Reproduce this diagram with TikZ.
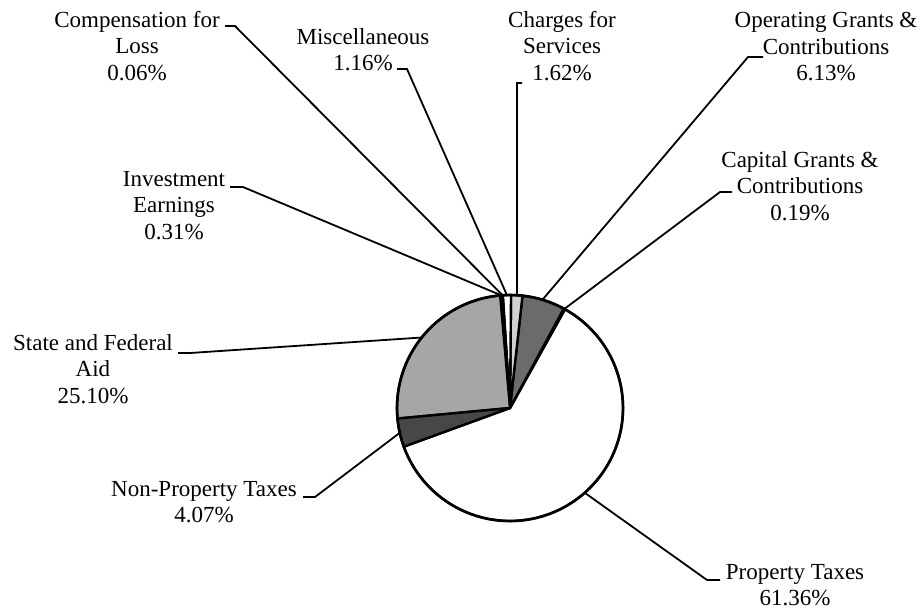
\documentclass[tikz,border=0pt]{standalone}
\usepackage{fontspec}
\setmainfont{Liberation Serif}
\begin{document}
\begin{tikzpicture}[x=1pt,y=-1pt,
  lbl/.style={align=center,inner sep=0pt,anchor=north,font=\fontsize{23}{26.5}\selectfont},
  lead/.style={line width=1.8pt,line join=miter},
  slice/.style={draw=black,line width=2.4pt,line join=round}]
\useasboundingbox (0,0) rectangle (924,614);
\fill[white] (0,0) rectangle (924,614);

% pie
\begin{scope}[shift={(510,408)},yscale=-1]
  \filldraw[slice,fill=white]     (0,0) -- (200.01:113) arc[start angle=200.01,end angle=420.9,radius=113] -- cycle;
  \filldraw[slice,fill=black]     (0,0) -- (60.9:113)   arc[start angle=60.9,end angle=61.58,radius=113] -- cycle;
  \filldraw[slice,fill=black!58]  (0,0) -- (61.58:113)  arc[start angle=61.58,end angle=83.65,radius=113] -- cycle;
  \filldraw[slice,fill=black!18]  (0,0) -- (83.65:113)  arc[start angle=83.65,end angle=89.48,radius=113] -- cycle;
  \filldraw[slice,fill=white]     (0,0) -- (89.48:113)  arc[start angle=89.48,end angle=93.66,radius=113] -- cycle;
  \filldraw[slice,fill=black]     (0,0) -- (93.66:113)  arc[start angle=93.66,end angle=93.88,radius=113] -- cycle;
  \filldraw[slice,fill=black!88]  (0,0) -- (93.88:113)  arc[start angle=93.88,end angle=95.0,radius=113] -- cycle;
  \filldraw[slice,fill=black!35]  (0,0) -- (95.0:113)   arc[start angle=95.0,end angle=185.36,radius=113] -- cycle;
  \filldraw[slice,fill=black!72]  (0,0) -- (185.36:113) arc[start angle=185.36,end angle=200.01,radius=113] -- cycle;
  \draw[line width=2.6pt] (0,0) circle[radius=113];
  % leader end points on the pie
  \coordinate (pcomp) at (93.77:113);
  \coordinate (pmisc) at (91.57:113);
  \coordinate (pchar) at (86.45:113);
  \coordinate (poper) at (73.3:113);
  \coordinate (pcap)  at (61.24:113);
  \coordinate (pinv)  at (94.44:113);
  \coordinate (pstate) at (141.4:113);
  \coordinate (pnon)  at (192.7:113);
  \coordinate (pprop) at (311.4:113);
\end{scope}

% labels
\node[lbl] (lcomp)  at (137,11)  {Compensation for\\Loss\\0.06\%};
\node[lbl] (lmisc)  at (363,28)  {Miscellaneous\\1.16\%};
\node[lbl] (lchar)  at (562,11)  {Charges for\\Services\\1.62\%};
\node[lbl] (loper)  at (826,12)  {Operating Grants \&\\Contributions\\6.13\%};
\node[lbl] (lcap)   at (800,151) {Capital Grants \&\\Contributions\\0.19\%};
\node[lbl] (linv)   at (174,171) {Investment\\Earnings\\0.31\%};
\node[lbl] (lstate) at (93,334)  {State and Federal\\Aid\\25.10\%};
\node[lbl] (lnon)   at (204,481) {Non-Property Taxes\\4.07\%};
\node[lbl] (lprop)  at (795,564) {Property Taxes\\61.36\%};

% leader corners
\coordinate (ccomp)  at (235,26);
\coordinate (cmisc)  at (407,69);
\coordinate (cchar)  at (517,83);
\coordinate (coper)  at (748,57);
\coordinate (ccap)   at (720,192);
\coordinate (cinv)   at (243,187);
\coordinate (cstate) at (190,353);
\coordinate (cnon)   at (315,497);
\coordinate (cprop)  at (707,580);

\draw[lead] ([xshift=-10pt]ccomp) -- (ccomp) -- (pcomp);
\draw[lead] ([xshift=-10pt]cmisc) -- (cmisc) -- (pmisc);
\draw[lead] ([xshift=5pt]cchar) -- (cchar) -- (pchar);
\draw[lead] ([xshift=15pt]coper) -- (coper) -- (poper);
\draw[lead] ([xshift=12pt]ccap) -- (ccap) -- (pcap);
\draw[lead] ([xshift=-13pt]cinv) -- (cinv) -- (pinv);
\draw[lead] ([xshift=-12pt]cstate) -- (cstate) -- (pstate);
\draw[lead] ([xshift=-12pt]cnon) -- (cnon) -- (pnon);
\draw[lead] ([xshift=13pt]cprop) -- (cprop) -- (pprop);
\end{tikzpicture}
\end{document}
